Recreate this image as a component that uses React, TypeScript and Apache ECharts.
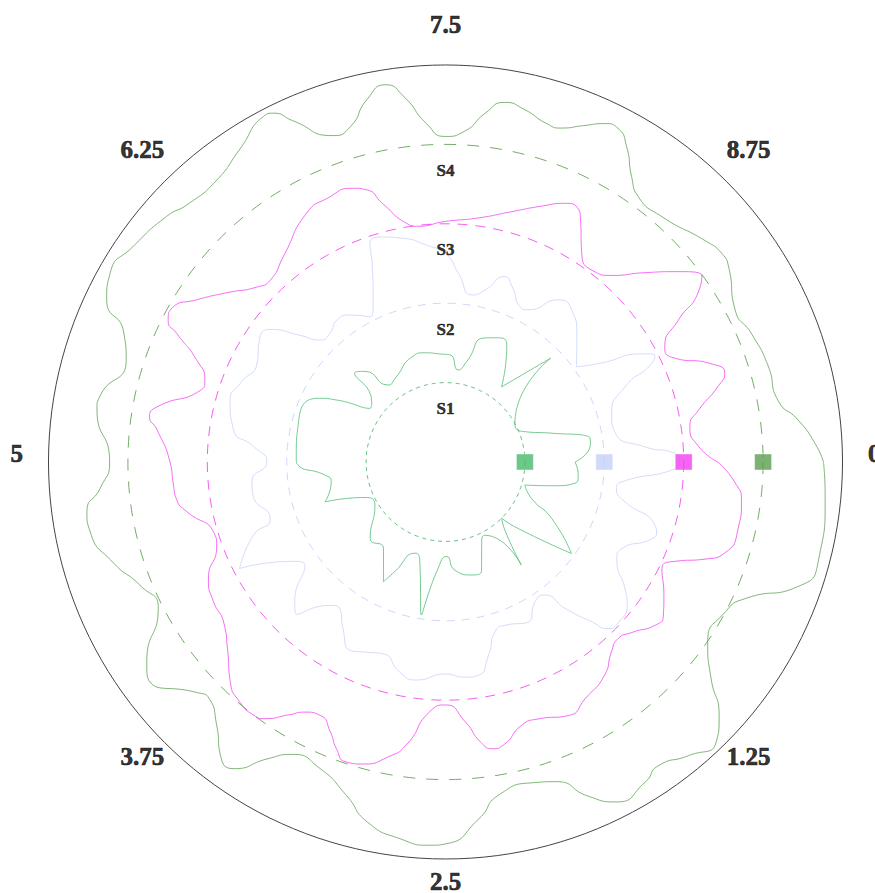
import React, { useEffect, useRef } from 'react';
import * as echarts from 'echarts';

const SERIES_NAMES = ['S1', 'S2', 'S3', 'S4'];
const BASE_RADII = [1, 2, 3, 4];
const SERIES_COLORS = ['#48b96b', '#c6d0f8', '#f23ef0', '#5a9e4d'];
const DASHES = [[4, 4], [8, 7], [10, 8], [12, 11]];
const ANGLE_TICKS = [0, 1.25, 2.5, 3.75, 5, 6.25, 7.5, 8.75];

// [angle, radius]
const S1: number[][] = [
  [0, 1.63], [0.16, 1.68], [0.26, 1.65], [0.35, 1.37], [0.45, 1.04], [0.64, 1.18], [0.78, 1.52],
  [1.0, 1.96], [1.18, 1.24], [1.25, 1.0], [1.37, 1.16], [1.49, 1.61], [1.71, 1.05], [1.82, 1.1],
  [1.99, 1.44], [2.14, 1.46], [2.36, 1.37], [2.48, 1.19], [2.61, 1.34], [2.75, 1.95], [2.9, 1.3],
  [3.01, 1.21], [3.19, 1.52], [3.26, 1.7], [3.49, 1.34], [3.74, 1.35], [4.13, 1.04], [4.34, 1.11],
  [4.49, 1.6], [4.73, 1.46], [4.83, 1.53], [4.97, 1.86], [5.04, 1.88], [5.43, 1.92], [5.74, 1.79],
  [5.83, 1.56], [5.98, 1.17], [6.09, 1.2], [6.23, 1.6], [6.34, 1.53], [6.48, 1.21], [6.64, 1.23],
  [7.01, 1.39], [7.2, 1.4], [7.44, 1.36], [7.57, 1.35], [7.72, 1.17], [7.83, 1.29], [7.99, 1.64],
  [8.14, 1.7], [8.27, 1.66], [8.52, 1.18], [8.76, 1.86], [9.19, 1.0], [9.42, 1.07], [9.58, 1.39],
  [9.72, 1.83], [9.8, 1.84], [10, 1.63],
];

const S2: number[][] = [
  [0, 2.95], [0.05, 2.89], [0.18, 2.23], [0.25, 2.18], [0.33, 2.27], [0.47, 2.76], [0.51, 2.8],
  [0.57, 2.77], [0.73, 2.47], [0.82, 2.48], [0.98, 2.77], [1.06, 2.91], [1.19, 2.97], [1.27, 2.93],
  [1.32, 2.73], [1.41, 2.38], [1.48, 2.09], [1.59, 2.09], [1.74, 2.27], [1.94, 2.19], [2.05, 2.23],
  [2.15, 2.49], [2.26, 2.72], [2.36, 2.72], [2.5, 2.67], [2.71, 2.77], [2.84, 2.71], [3.0, 2.54],
  [3.12, 2.59], [3.25, 2.66], [3.38, 2.46], [3.49, 2.28], [3.58, 2.32], [3.73, 2.68], [3.81, 2.59],
  [3.99, 2.2], [4.08, 2.29], [4.24, 2.92], [4.42, 2.59], [4.5, 2.32], [4.73, 2.46], [4.84, 2.45],
  [5.0, 2.25], [5.13, 2.43], [5.24, 2.7], [5.44, 2.82], [5.58, 2.77], [5.77, 2.68], [5.92, 2.8],
  [6.03, 2.77], [6.14, 2.43], [6.23, 2.2], [6.34, 2.18], [6.46, 2.25], [6.58, 2.21], [6.74, 2.06],
  [6.83, 2.23], [6.93, 2.63], [6.97, 2.91], [7.07, 2.94], [7.18, 2.88], [7.39, 2.72], [7.5, 2.63],
  [7.61, 2.38], [7.75, 2.13], [7.86, 2.22], [7.99, 2.45], [8.08, 2.36], [8.21, 2.17], [8.29, 2.18],
  [8.47, 2.49], [8.6, 2.49], [8.77, 2.31], [9.0, 2.04], [9.09, 2.29], [9.21, 2.86], [9.25, 2.96],
  [9.29, 2.88], [9.37, 2.45], [9.55, 2.18], [9.73, 2.17], [9.88, 2.52], [9.94, 2.89], [10, 2.95],
];

const S3: number[][] = [
  [0, 3.43], [0.11, 3.65], [0.21, 3.76], [0.36, 3.78], [0.5, 3.7], [0.57, 3.49], [0.65, 3.15],
  [0.73, 3.04], [0.87, 3.22], [0.98, 3.36], [1.05, 3.35], [1.18, 3.18], [1.27, 3.11], [1.36, 3.18],
  [1.48, 3.35], [1.65, 3.46], [1.78, 3.55], [1.95, 3.44], [2.05, 3.45], [2.18, 3.64], [2.24, 3.66],
  [2.3, 3.56], [2.38, 3.28], [2.5, 3.06], [2.6, 3.15], [2.72, 3.6], [2.81, 3.79], [2.92, 3.94],
  [3.01, 3.98], [3.08, 3.86], [3.14, 3.7], [3.23, 3.56], [3.32, 3.62], [3.38, 3.74], [3.48, 3.96],
  [3.53, 4.0], [3.63, 3.98], [3.73, 3.88], [3.87, 3.62], [4.0, 3.45], [4.14, 3.41], [4.27, 3.33],
  [4.44, 3.07], [4.53, 3.05], [4.7, 3.32], [4.78, 3.42], [4.88, 3.44], [5.0, 3.47], [5.18, 3.66],
  [5.24, 3.77], [5.3, 3.7], [5.45, 3.22], [5.52, 3.2], [5.62, 3.39], [5.71, 3.75], [5.75, 3.92],
  [5.82, 3.95], [5.92, 3.74], [6.05, 3.48], [6.19, 3.24], [6.28, 3.18], [6.44, 3.3], [6.69, 3.59],
  [6.83, 3.64], [6.98, 3.64], [7.05, 3.57], [7.12, 3.35], [7.24, 3.05], [7.31, 2.99], [7.5, 3.03],
  [7.71, 3.1], [7.91, 3.26], [8.07, 3.44], [8.19, 3.59], [8.26, 3.61], [8.31, 3.49], [8.42, 3.14],
  [8.54, 3.04], [8.66, 3.15], [8.79, 3.46], [8.91, 3.79], [9.0, 3.99], [9.06, 3.83], [9.13, 3.43],
  [9.23, 3.12], [9.31, 3.14], [9.44, 3.58], [9.51, 3.69], [9.57, 3.56], [9.68, 3.25], [9.77, 3.11],
  [9.9, 3.19], [10, 3.43],
];

const S4: number[][] = [
  [0, 4.76], [0.14, 4.8], [0.42, 4.86], [0.54, 4.71], [0.68, 4.15], [0.78, 4.0], [0.96, 4.01],
  [1.09, 4.32], [1.19, 4.7], [1.28, 4.91], [1.4, 4.8], [1.53, 4.67], [1.61, 4.75], [1.76, 4.79],
  [1.86, 4.57], [1.97, 4.26], [2.07, 4.19], [2.25, 4.25], [2.35, 4.51], [2.5, 4.81], [2.56, 4.83],
  [2.69, 4.78], [2.84, 4.64], [2.96, 4.38], [3.12, 4.17], [3.27, 4.16], [3.36, 4.36], [3.46, 4.69],
  [3.54, 4.66], [3.64, 4.39], [3.75, 4.21], [3.81, 4.27], [3.98, 4.64], [4.06, 4.53], [4.25, 4.06],
  [4.39, 4.15], [4.53, 4.37], [4.69, 4.56], [4.78, 4.56], [4.88, 4.36], [5.0, 4.23], [5.24, 4.44],
  [5.3, 4.43], [5.49, 4.22], [5.61, 4.37], [5.71, 4.73], [5.82, 4.85], [5.96, 4.78], [6.15, 4.68],
  [6.25, 4.59], [6.41, 4.57], [6.57, 4.71], [6.73, 4.92], [6.77, 4.9], [6.83, 4.71], [6.97, 4.35],
  [7.06, 4.39], [7.16, 4.67], [7.25, 4.81], [7.32, 4.63], [7.41, 4.27], [7.5, 4.1], [7.59, 4.17],
  [7.68, 4.42], [7.76, 4.59], [7.85, 4.55], [7.96, 4.45], [8.03, 4.45], [8.12, 4.58], [8.2, 4.71],
  [8.26, 4.73], [8.33, 4.58], [8.42, 4.29], [8.5, 4.13], [8.65, 4.12], [8.88, 4.3], [8.97, 4.36],
  [9.04, 4.33], [9.23, 4.12], [9.37, 4.18], [9.54, 4.24], [9.71, 4.26], [9.81, 4.47], [9.92, 4.66],
  [10, 4.76],
];

const SERIES_POINTS = [S1, S2, S3, S4];
const FONT = "'Liberation Serif', 'DejaVu Serif', serif";

export default function App() {
  const ref = useRef<HTMLDivElement>(null);
  useEffect(() => {
    const chart = echarts.init(ref.current!, null, { renderer: 'svg' });
    const option: any = {
      animation: false,
      backgroundColor: '#ffffff',
      polar: { center: [445.5, 462], radius: 397 },
      angleAxis: {
        type: 'value', min: 0, max: 10, interval: 1.25, startAngle: 0, clockwise: true,
        axisLine: { show: true, lineStyle: { color: '#444', width: 1 } },
        axisTick: { show: false }, axisLabel: { show: false }, splitLine: { show: false },
      },
      radiusAxis: {
        type: 'value', min: 0, max: 5, show: false,
        axisLine: { show: false }, axisTick: { show: false }, axisLabel: { show: false },
        splitLine: { show: false },
      },
      series: [
        {
          type: 'custom', coordinateSystem: 'polar', silent: true, z: 1,
          data: BASE_RADII.map((r) => [r, 0]),
          renderItem: (params: any, api: any) => {
            const cs = params.coordSys;
            const p = api.coord([api.value(0), 0]);
            const r = Math.hypot(p[0] - cs.cx, p[1] - cs.cy);
            const i = params.dataIndex;
            return {
              type: 'circle',
              shape: { cx: cs.cx, cy: cs.cy, r },
              style: { fill: 'none', stroke: SERIES_COLORS[i], lineWidth: 1, lineDash: DASHES[i], opacity: 0.85 },
            };
          },
        },
        ...SERIES_POINTS.map((pts, i) => ({
          type: 'line', name: SERIES_NAMES[i], coordinateSystem: 'polar',
          data: pts.map(([a, r]) => [r, a]),
          smooth: 0.6, showSymbol: false, symbol: 'none', z: 2,
          lineStyle: { color: SERIES_COLORS[i], width: 1, opacity: 0.75 },
        })),
        {
          type: 'scatter', coordinateSystem: 'polar', z: 5, symbol: 'rect', symbolSize: [17, 16],
          data: BASE_RADII.map((r, i) => ({ value: [r, 0], itemStyle: { color: SERIES_COLORS[i] } })),
          itemStyle: { borderColor: 'rgba(255,255,255,0.55)', borderWidth: 1 },
        },
        {
          type: 'scatter', coordinateSystem: 'polar', z: 6, symbolSize: 1, silent: true,
          itemStyle: { color: 'rgba(0,0,0,0)' },
          data: BASE_RADII.map((r, i) => ({ value: [r, 7.5], name: SERIES_NAMES[i] })),
          label: {
            show: true, position: 'inside', offset: [0, 26], formatter: '{b}',
            fontFamily: FONT, fontWeight: 'bold', fontSize: 17, lineHeight: 14, color: '#000',
            textBorderColor: '#000', textBorderWidth: 0.5,
          },
        },
        {
          type: 'scatter', coordinateSystem: 'polar', z: 6, symbolSize: 1, silent: true, clip: false,
          itemStyle: { color: 'rgba(0,0,0,0)' },
          data: ANGLE_TICKS.map((t) => ({ value: [5.4, t], name: String(t) })),
          label: {
            show: true, position: 'inside', offset: [0, -9], formatter: '{b}',
            fontFamily: FONT, fontWeight: 'bold', fontSize: 25, lineHeight: 18, color: '#000',
            textBorderColor: '#000', textBorderWidth: 0.7,
          },
        },
      ],
    };
    chart.setOption(option);
    return () => chart.dispose();
  }, []);
  return (
    <div
      ref={ref}
      style={{ position: 'fixed', left: 0, top: 0, width: 875, height: 893, background: '#fff' }}
    />
  );
}
